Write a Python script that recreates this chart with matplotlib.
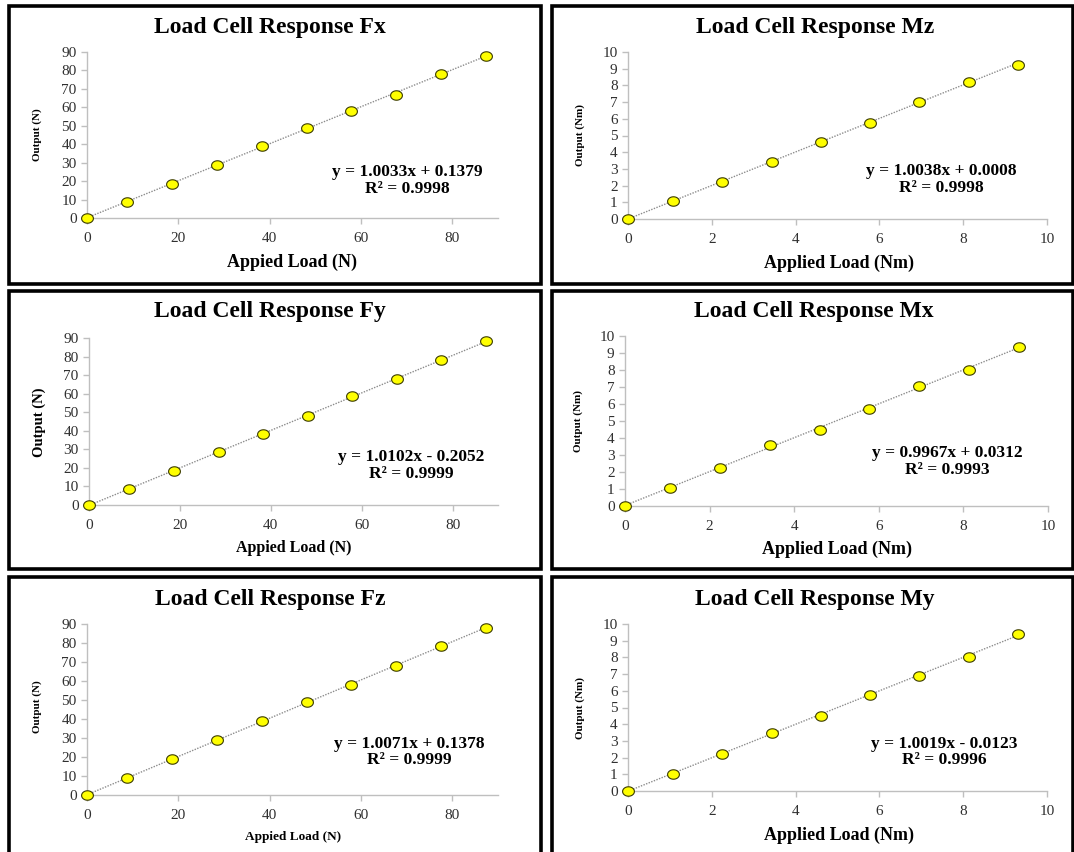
import numpy as np
import matplotlib.pyplot as plt
from matplotlib.patches import Rectangle
from matplotlib.path import Path

# applied loads (same for all three force channels / all three moment channels)
force_load = [0, 8.8, 18.6, 28.5, 38.3, 48.1, 57.9, 67.7, 77.5, 87.3]
moment_load = [0, 1.07, 2.25, 3.43, 4.6, 5.78, 6.95, 8.13, 9.31]

fx_out = [0, 8.9, 18.5, 28.7, 38.8, 48.6, 57.8, 66.7, 78.0, 87.6]
fy_out = [0, 8.6, 18.3, 28.5, 38.5, 48.2, 58.6, 67.7, 78.1, 88.2]
fz_out = [0, 8.8, 18.8, 29.0, 38.8, 48.7, 58.0, 68.0, 78.2, 87.7]
mz_out = [0, 1.08, 2.2, 3.44, 4.6, 5.76, 7.0, 8.2, 9.24]
mx_out = [0, 1.08, 2.23, 3.56, 4.5, 5.71, 7.03, 8.02, 9.37]
my_out = [0, 1.02, 2.24, 3.46, 4.52, 5.72, 6.88, 8.04, 9.38]

# trendline coefficients (slope, intercept, r2)
fx_fit = (1.0033, 0.1379, '0.9998')
fy_fit = (1.0102, -0.2052, '0.9999')
fz_fit = (1.0071, 0.1378, '0.9999')
mz_fit = (1.0038, 0.0008, '0.9998')
mx_fit = (0.9967, 0.0312, '0.9993')
my_fit = (1.0019, -0.0123, '0.9996')

W, H = 1074, 852
plt.rcParams['font.family'] = ['Liberation Serif', 'DejaVu Serif']
fig = plt.figure(figsize=(W / 100, H / 100), dpi=100)

# slightly flattened circle, like the excel markers
t = np.linspace(0, 2 * np.pi, 40)
oval = Path(np.column_stack([1.25 * np.cos(t), np.sin(t)]), closed=True)


def px_rect(x0, y0, x1, y1):
    # pixel box (top-left origin) -> figure fraction
    return [x0 / W, 1 - y1 / H, (x1 - x0) / W, (y1 - y0) / H]


def panel(box, ax_px, title, title_xy, xlab, xlab_xy, xlab_size, ylab, ylab_xy,
          ylab_size, x, y, fit, xmax, step_x, step_y, eq_pos):
    fig.patches.append(Rectangle((box[0] / W, 1 - box[3] / H),
                                 (box[2] - box[0]) / W, (box[3] - box[1]) / H,
                                 transform=fig.transFigure, fill=False,
                                 lw=2.6, ec='black', zorder=5))
    ax = fig.add_axes(px_rect(*ax_px))
    slope, icpt, r2 = fit
    xl = [0, x[-1]]
    ax.plot(xl, [slope * v + icpt for v in xl], color='#8c8c8c', lw=1.0,
            linestyle=(0, (1, 1)), zorder=2)
    ax.plot(x, y, linestyle='none', marker=oval, ms=8.5, mfc='#ffff00',
            mec='#3a3a00', mew=0.8, zorder=3, clip_on=False)
    ax.set_xlim(0, xmax)
    ax.set_ylim(0, xmax)
    ax.set_xticks(range(0, 81, step_x) if xmax == 90 else range(0, 11, step_x))
    ax.set_yticks(range(0, xmax + 1, step_y))
    for s in ['top', 'right']:
        ax.spines[s].set_visible(False)
    for s in ['left', 'bottom']:
        ax.spines[s].set_color('#bfbfbf')
        ax.spines[s].set_linewidth(1.0)
    ax.tick_params(colors='#bfbfbf', labelcolor='#303030', labelsize=11,
                   length=4, width=1.0)
    ax.tick_params(axis='x', pad=6)
    sign = '+' if icpt >= 0 else '-'
    ax.text(eq_pos[0], eq_pos[1],
            'y = %.4fx %s %.4f\nR² = %s' % (slope, sign, abs(icpt), r2),
            transform=ax.transAxes, ha='center', va='center',
            fontsize=12.5, fontweight='bold', linespacing=1.05)
    fig.text(title_xy[0] / W, 1 - title_xy[1] / H, title, ha='center',
             va='center', fontsize=17, fontweight='bold')
    fig.text(xlab_xy[0] / W, 1 - xlab_xy[1] / H, xlab, ha='center',
             va='center', fontsize=xlab_size, fontweight='bold')
    fig.text(ylab_xy[0] / W, 1 - ylab_xy[1] / H, ylab, ha='center',
             va='center', rotation=90, fontsize=ylab_size, fontweight='bold')
    return ax


panel((9, 6, 541, 284), (87, 52, 498, 218), 'Load Cell Response Fx', (270, 27),
      'Appied Load (N)', (292, 262), 13, 'Output (N)', (37, 135), 8,
      force_load, fx_out, fx_fit, 90, 20, 10, (0.78, 0.226))
panel((552, 6, 1073, 284), (628, 52, 1047, 219), 'Load Cell Response Mz', (815, 27),
      'Applied Load (Nm)', (839, 263), 13, 'Output (Nm)', (580, 135), 8,
      moment_load, mz_out, mz_fit, 10, 2, 1, (0.747, 0.237))
panel((9, 291, 541, 569), (89, 338, 498, 505), 'Load Cell Response Fy', (270, 312),
      'Appied Load (N)', (294, 548), 11.5, 'Output (N)', (39, 422), 10.5,
      force_load, fy_out, fy_fit, 90, 20, 10, (0.787, 0.236))
panel((552, 291, 1073, 569), (625, 336, 1048, 506), 'Load Cell Response Mx', (814, 312),
      'Applied Load (Nm)', (837, 549), 13, 'Output (Nm)', (578, 421), 8,
      moment_load, mx_out, mx_fit, 10, 2, 1, (0.761, 0.262))
panel((9, 577, 541, 856), (87, 624, 498, 795), 'Load Cell Response Fz', (270, 600),
      'Appied Load (N)', (293, 837), 9.5, 'Output (N)', (37, 707), 8,
      force_load, fz_out, fz_fit, 90, 20, 10, (0.783, 0.251))
panel((552, 577, 1073, 856), (628, 624, 1047, 791), 'Load Cell Response My', (815, 600),
      'Applied Load (Nm)', (839, 835), 13, 'Output (Nm)', (580, 708), 8,
      moment_load, my_out, my_fit, 10, 2, 1, (0.754, 0.234))

plt.savefig('out.png', dpi=100)
